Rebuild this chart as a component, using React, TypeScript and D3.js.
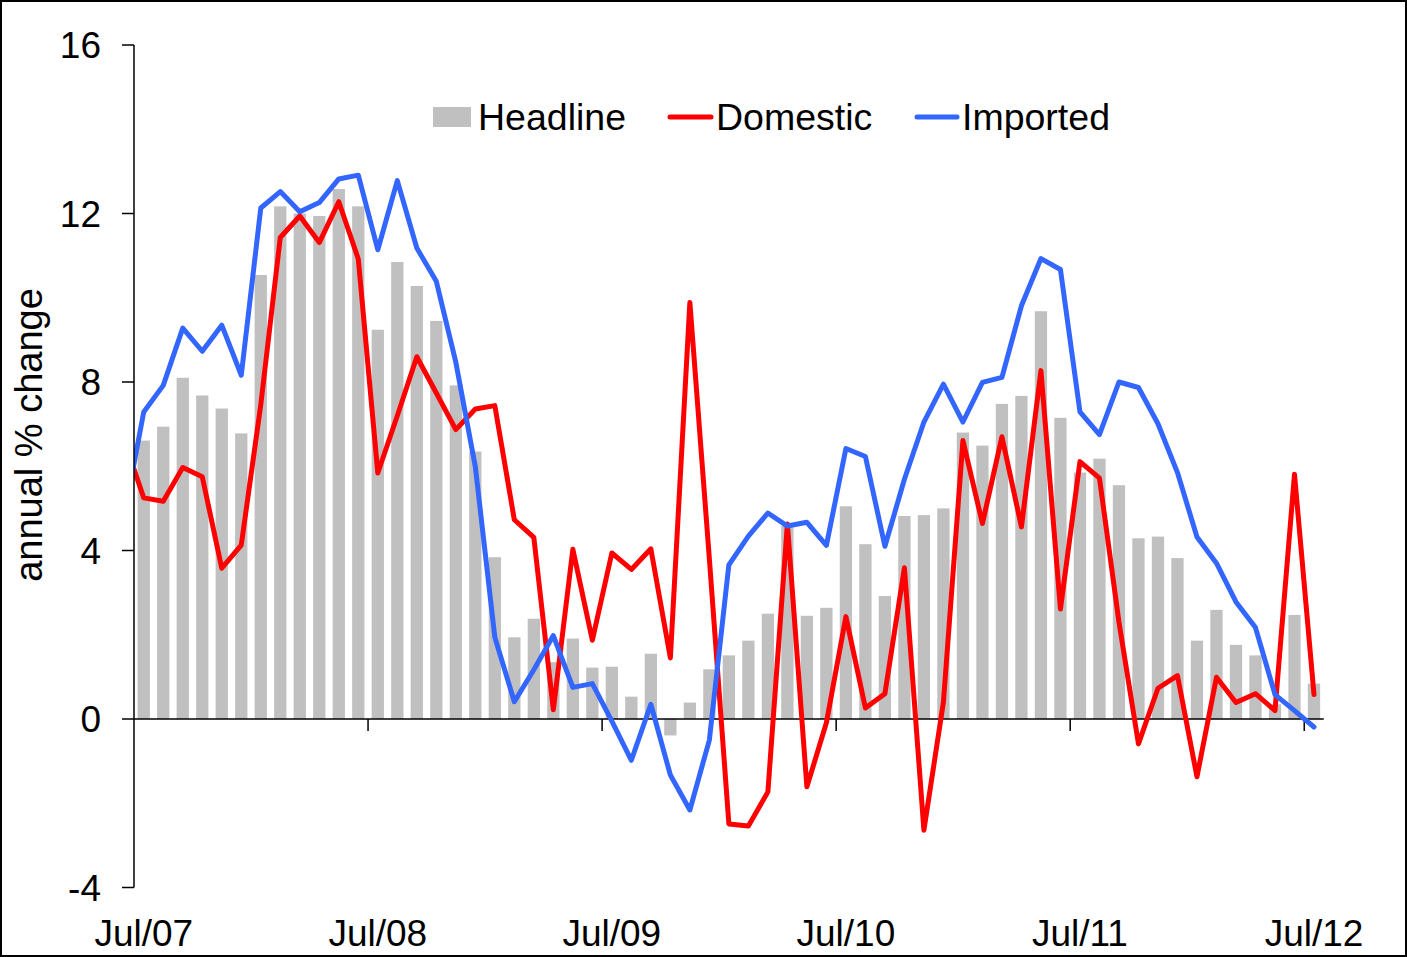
import React, { useRef, useEffect } from 'react'
import * as d3 from 'd3'

// monthly categories Jul/07 .. Jul/12
const months: string[] = d3
  .timeMonths(new Date(2007, 6, 1), new Date(2012, 7, 1))
  .map(d => d3.timeFormat('%b/%y')(d))

const xTickLabels = ['Jul/07', 'Jul/08', 'Jul/09', 'Jul/10', 'Jul/11', 'Jul/12']
const yTicks = [-4, 0, 4, 8, 12, 16]

const headline = [
  6.61, 6.94, 8.10, 7.68, 7.37, 6.78, 10.54, 12.17, 12.0, 11.94, 12.58, 12.17,
  9.24, 10.85, 10.28, 9.45, 7.92, 6.35, 3.84, 1.94, 2.38, 1.35, 1.91, 1.22,
  1.24, 0.53, 1.55, -0.39, 0.39, 1.18, 1.51, 1.86, 2.50, 4.58, 2.45, 2.64,
  5.05, 4.15, 2.92, 4.82, 4.84, 5.0, 6.80, 6.49, 7.48, 7.67, 9.68, 7.15,
  5.85, 6.18, 5.55, 4.29, 4.33, 3.82, 1.86, 2.59, 1.76, 1.51, 0.35, 2.47,
  0.84
]

// Jun/07 value first (line enters from left of the axis, clipped)
const domestic = [
  6.61,
  5.25, 5.17, 5.97, 5.75, 3.58, 4.13, 7.46, 11.43, 11.94, 11.31, 12.28, 10.92,
  5.84, 7.2, 8.60, 7.74, 6.87, 7.36, 7.44, 4.73, 4.31, 0.22, 4.03, 1.87,
  3.94, 3.55, 4.04, 1.45, 9.89, 3.8, -2.49, -2.54, -1.73, 4.63, -1.61, -0.09,
  2.43, 0.26, 0.60, 3.59, -2.64, 0.4, 6.61, 4.64, 6.70, 4.56, 8.27, 2.61,
  6.11, 5.72, 2.3, -0.59, 0.73, 1.03, -1.37, 0.99, 0.39, 0.60, 0.20, 5.81,
  0.58
]

const imported = [
  4.83,
  7.29, 7.92, 9.28, 8.73, 9.35, 8.16, 12.13, 12.52, 12.04, 12.26, 12.82, 12.91,
  11.14, 12.78, 11.18, 10.39, 8.47, 5.99, 1.94, 0.41, 1.17, 1.98, 0.75, 0.84,
  -0.05, -0.98, 0.35, -1.33, -2.16, -0.50, 3.66, 4.34, 4.89, 4.58, 4.67, 4.12,
  6.42, 6.23, 4.10, 5.69, 7.05, 7.95, 7.05, 7.99, 8.11, 9.81, 10.93, 10.67,
  7.29, 6.75, 8.0, 7.87, 7.01, 5.85, 4.32, 3.70, 2.78, 2.17, 0.58, 0.20,
  -0.19
]

const W = 1407
const H = 957
const FONT = '"Liberation Sans", Arial, sans-serif'

export default function App() {
  const svgRef = useRef<SVGSVGElement>(null)

  useEffect(() => {
    if (!svgRef.current) return
    const svg = d3.select(svgRef.current)
    svg.selectAll('*').remove()

    const left = 134
    const right = 1323.75
    const top = 45
    const bottom = 887.5

    // index scale: category i centred at x(i)
    const x = d3.scaleLinear().domain([-0.5, months.length - 0.5]).range([left, right])
    const y = d3.scaleLinear().domain([-4, 16]).range([bottom, top])
    const step = x(1) - x(0)
    const barW = step * 0.63

    svg.append('rect')
      .attr('x', 1).attr('y', 1)
      .attr('width', W - 2).attr('height', H - 2)
      .attr('fill', '#fff')
      .attr('stroke', '#000')
      .attr('stroke-width', 2)

    svg.append('defs').append('clipPath')
      .attr('id', 'plot-clip')
      .append('rect')
      .attr('x', left).attr('y', top)
      .attr('width', right - left).attr('height', bottom - top)

    // bars
    svg.append('g')
      .selectAll('rect')
      .data(headline)
      .join('rect')
      .attr('x', (_, i) => x(i) - barW / 2)
      .attr('width', barW)
      .attr('y', d => y(Math.max(0, d)))
      .attr('height', d => Math.abs(y(d) - y(0)))
      .attr('fill', '#c0c0c0')

    // x axis line at zero + ticks between years
    svg.append('line')
      .attr('x1', left).attr('x2', right)
      .attr('y1', y(0)).attr('y2', y(0))
      .attr('stroke', '#000').attr('stroke-width', 1.5)

    const yearBounds = d3.range(11.5, months.length, 12)
    svg.append('g')
      .selectAll('line')
      .data(yearBounds)
      .join('line')
      .attr('x1', d => x(d)).attr('x2', d => x(d))
      .attr('y1', y(0)).attr('y2', y(0) + 12)
      .attr('stroke', '#000').attr('stroke-width', 1.5)

    // lines
    const line = d3.line<number>()
      .x((_, i) => x(i - 1))
      .y(d => y(d))

    const lines = svg.append('g').attr('clip-path', 'url(#plot-clip)')
    lines.append('path')
      .datum(domestic)
      .attr('d', line)
      .attr('fill', 'none')
      .attr('stroke', '#ff0000')
      .attr('stroke-width', 5)
      .attr('stroke-linejoin', 'round')
      .attr('stroke-linecap', 'round')
    lines.append('path')
      .datum(imported)
      .attr('d', line)
      .attr('fill', 'none')
      .attr('stroke', '#3366ff')
      .attr('stroke-width', 5)
      .attr('stroke-linejoin', 'round')
      .attr('stroke-linecap', 'round')

    // y axis
    svg.append('line')
      .attr('x1', left).attr('x2', left)
      .attr('y1', top).attr('y2', bottom)
      .attr('stroke', '#000').attr('stroke-width', 1.5)

    const yg = svg.append('g')
    yg.selectAll('line')
      .data(yTicks)
      .join('line')
      .attr('x1', left - 12).attr('x2', left)
      .attr('y1', d => y(d)).attr('y2', d => y(d))
      .attr('stroke', '#000').attr('stroke-width', 1.5)
    yg.selectAll('text')
      .data(yTicks)
      .join('text')
      .attr('x', 101)
      .attr('y', d => y(d) + 13)
      .attr('text-anchor', 'end')
      .style('font-family', FONT)
      .style('font-size', '37px')
      .text(d => String(d))

    // x tick labels
    svg.append('g')
      .selectAll('text')
      .data(xTickLabels)
      .join('text')
      .attr('x', d => x(months.indexOf(d)))
      .attr('y', 946)
      .attr('text-anchor', 'middle')
      .style('font-family', FONT)
      .style('font-size', '37px')
      .text(d => d)

    // y title
    svg.append('text')
      .attr('transform', `translate(42,435) rotate(-90)`)
      .attr('text-anchor', 'middle')
      .style('font-family', FONT)
      .style('font-size', '38px')
      .text('annual % change')

    // legend
    const lg = svg.append('g').style('font-family', FONT).style('font-size', '37.5px')
    lg.append('rect')
      .attr('x', 433).attr('y', 107).attr('width', 38).attr('height', 20)
      .attr('fill', '#c0c0c0')
    lg.append('text').attr('x', 478).attr('y', 130).text('Headline')
    lg.append('line')
      .attr('x1', 670).attr('x2', 711).attr('y1', 117).attr('y2', 117)
      .attr('stroke', '#ff0000').attr('stroke-width', 5).attr('stroke-linecap', 'round')
    lg.append('text').attr('x', 716).attr('y', 130).text('Domestic')
    lg.append('line')
      .attr('x1', 917).attr('x2', 957).attr('y1', 117).attr('y2', 117)
      .attr('stroke', '#3366ff').attr('stroke-width', 5).attr('stroke-linecap', 'round')
    lg.append('text').attr('x', 962).attr('y', 130).text('Imported')
  }, [])

  return (
    <div style={{ position: 'absolute', left: 0, top: 0 }}>
      <svg ref={svgRef} width={W} height={H} style={{ display: 'block' }} />
    </div>
  )
}
